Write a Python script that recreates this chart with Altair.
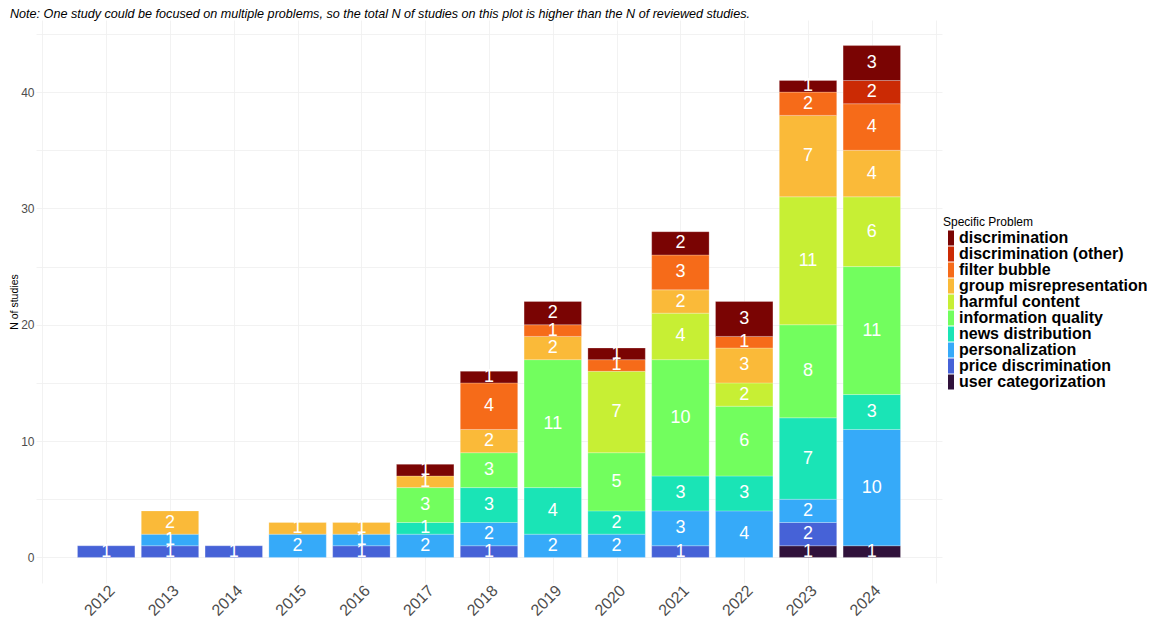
import altair as alt
import pandas as pd

years = [2012, 2013, 2014, 2015, 2016, 2017, 2018, 2019, 2020, 2021, 2022, 2023, 2024]

# stack order: bottom -> top
problems = [
    "user categorization",
    "price discrimination",
    "personalization",
    "news distribution",
    "information quality",
    "harmful content",
    "group misrepresentation",
    "filter bubble",
    "discrimination (other)",
    "discrimination",
]
colors = [
    "#30123B", "#4662D7", "#36AAF9", "#1AE4B6", "#72FE5E",
    "#C7EF34", "#FABA39", "#F66B19", "#CB2A04", "#7A0403",
]

user_categorization = [0, 0, 0, 0, 0, 0, 0, 0, 0, 0, 0, 1, 1]
price_discrimination = [1, 1, 1, 0, 1, 0, 1, 0, 0, 1, 0, 2, 0]
personalization = [0, 1, 0, 2, 1, 2, 2, 2, 2, 3, 4, 2, 10]
news_distribution = [0, 0, 0, 0, 0, 1, 3, 4, 2, 3, 3, 7, 3]
information_quality = [0, 0, 0, 0, 0, 3, 3, 11, 5, 10, 6, 8, 11]
harmful_content = [0, 0, 0, 0, 0, 0, 0, 0, 7, 4, 2, 11, 6]
group_misrepresentation = [0, 2, 0, 1, 1, 1, 2, 2, 0, 2, 3, 7, 4]
filter_bubble = [0, 0, 0, 0, 0, 0, 4, 1, 1, 3, 1, 2, 4]
discrimination_other = [0, 0, 0, 0, 0, 0, 0, 0, 0, 0, 0, 0, 2]
discrimination = [0, 0, 0, 0, 0, 1, 1, 2, 1, 2, 3, 1, 3]

series = [
    user_categorization, price_discrimination, personalization, news_distribution,
    information_quality, harmful_content, group_misrepresentation, filter_bubble,
    discrimination_other, discrimination,
]

rows = []
for order, (name, vals) in enumerate(zip(problems, series)):
    for yr, v in zip(years, vals):
        if v > 0:
            rows.append({"year": yr, "problem": name, "n": v, "order": order})
df = pd.DataFrame(rows)

note = ("Note: One study could be focused on multiple problems, so the total N of studies "
        "on this plot is higher than the N of reviewed studies.")

x_grid = [2011 + 0.5 * i for i in range(29)]
y_grid = [5 * i for i in range(10)]

base = alt.Chart(df).transform_stack(
    stack="n", groupby=["year"], as_=["y0", "y1"],
    sort=[alt.SortField("order", order="ascending")],
).transform_calculate(
    x0="datum.year - 0.45", x1="datum.year + 0.45", ymid="(datum.y0 + datum.y1) / 2"
)

xscale = alt.Scale(domain=[2010.9, 2025.1], nice=False, zero=False)
yscale = alt.Scale(domain=[-2.2, 46.2], nice=False, zero=False)

xaxis = alt.Axis(
    values=x_grid, format="d",
    labelExpr="datum.value >= 2012 && datum.value <= 2024 && datum.value % 1 == 0 ? datum.label : ''",
    labelAngle=-45, labelAlign="right", labelBaseline="top", labelFontSize=16,
    labelColor="#4D4D4D", labelPadding=-1, ticks=False, tickSize=0, domain=False, title=None,
    grid=True, gridColor="#EFEFEF", gridWidth=0.8, labelOverlap=False, labelFlush=False,
)
yaxis = alt.Axis(
    values=y_grid,
    labelExpr="datum.value % 10 == 0 ? datum.label : ''",
    labelFontSize=12, labelColor="#4D4D4D", labelPadding=2, ticks=False, tickSize=0, domain=False,
    title="N of studies", titleFontSize=10.5, titleFontWeight="normal", titleColor="#000000",
    titlePadding=1, grid=True, gridColor="#EFEFEF", gridWidth=0.8,
)

color = alt.Color(
    "problem:N",
    scale=alt.Scale(domain=problems[::-1], range=colors[::-1]),
    legend=alt.Legend(
        title="Specific Problem", orient="none", legendX=907, legendY=197,
        titleFontSize=12, titleFontWeight="normal", titleColor="#000000", titlePadding=1,
        labelFontSize=16, labelFontWeight="bold", labelColor="#000000", labelOffset=0,
        labelLimit=400,
        symbolType="M-1,-2.5H1V2.5H-1Z", symbolSize=36, symbolStrokeWidth=0,
        symbolOpacity=1, rowPadding=0,
    ),
)

bars = base.mark_rect(stroke="white", strokeWidth=0.4, strokeOpacity=0.6).encode(
    x=alt.X("x0:Q", scale=xscale, axis=xaxis),
    x2="x1:Q",
    y=alt.Y("y0:Q", scale=yscale, axis=yaxis),
    y2="y1:Q",
    color=color,
)

labels = base.mark_text(color="white", fontSize=18, baseline="middle", align="center").encode(
    x=alt.X("year:Q", scale=xscale),
    y=alt.Y("ymid:Q", scale=yscale),
    text="n:Q",
)

note_df = pd.DataFrame({"note": [note]})
note_text = alt.Chart(note_df).mark_text(
    align="left", baseline="alphabetic", fontSize=12.6, fontStyle="italic",
    color="#000000",
).encode(x=alt.value(-26), y=alt.value(-2.5), text="note:N")

chart = alt.layer(bars, labels, note_text).properties(
    width=906, height=563,
    autosize=alt.AutoSizeParams(type="none"),
    padding={"left": 28, "top": 12, "right": 205, "bottom": 34},
    background="white",
).configure(font="Liberation Sans", view=alt.ViewConfig(strokeWidth=0, stroke="transparent"))

chart.save("out.html", embed_options={"renderer": "svg", "actions": False})
